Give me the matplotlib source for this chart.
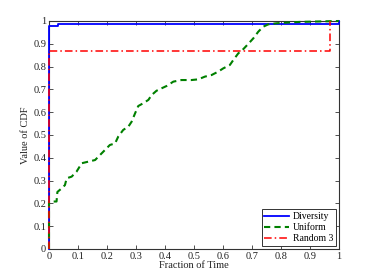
import matplotlib
matplotlib.use("Agg")
import matplotlib.pyplot as plt

plt.rcParams['font.family'] = ['Liberation Serif', 'DejaVu Serif']

# Data
div_x = [0, 0, 0.03, 0.03, 1.0, 1.0]
div_y = [0, 0.98, 0.98, 0.985, 0.985, 1.0]

uni_x = [0, 0, 0.026, 0.029, 0.044, 0.055, 0.061, 0.078, 0.095, 0.113, 0.136, 0.159,
         0.176, 0.193, 0.21, 0.228, 0.239, 0.256, 0.274, 0.285, 0.297, 0.308, 0.325,
         0.343, 0.354, 0.371, 0.389, 0.406, 0.429, 0.457, 0.492, 0.515, 0.538, 0.561,
         0.584, 0.601, 0.624, 0.636, 0.653, 0.67, 0.687, 0.705, 0.722, 0.739, 0.756,
         0.785, 0.82, 0.866, 1.0]
uni_y = [0, 0.208, 0.208, 0.25, 0.266, 0.28, 0.31, 0.317, 0.339, 0.376, 0.383, 0.39,
         0.412, 0.434, 0.456, 0.463, 0.493, 0.522, 0.537, 0.558, 0.595, 0.627, 0.639,
         0.654, 0.675, 0.694, 0.705, 0.715, 0.734, 0.741, 0.741, 0.744, 0.756, 0.763,
         0.778, 0.792, 0.807, 0.829, 0.858, 0.876, 0.899, 0.924, 0.953, 0.975, 0.985,
         0.99, 0.993, 0.996, 1.0]

rnd_x = [0, 0, 0.969, 0.969]
rnd_y = [0, 0.868, 0.868, 1.0]

ticks = [0, 0.1, 0.2, 0.3, 0.4, 0.5, 0.6, 0.7, 0.8, 0.9, 1]
tick_labels = ['0', '0.1', '0.2', '0.3', '0.4', '0.5', '0.6', '0.7', '0.8', '0.9', '1']

fig = plt.figure(figsize=(3.74, 2.8), dpi=100)
ax = fig.add_axes([0.131, 0.111, 0.775, 0.814])

ax.plot(div_x, div_y, color='#0000ff', lw=1.3, label='Diversity', clip_on=False, zorder=3)
ax.plot(uni_x, uni_y, color='#008000', lw=1.5, ls=(0, (3, 2)), label='Uniform',
        clip_on=False, zorder=4)
ax.plot(rnd_x, rnd_y, color='#ff0000', lw=1.1, ls=(0, (5, 2, 1, 2)), label='Random 3',
        clip_on=False, zorder=5)

ax.set_xlim(0, 1)
ax.set_ylim(0, 1)
ax.set_xticks(ticks)
ax.set_xticklabels(tick_labels)
ax.set_yticks(ticks)
ax.set_yticklabels(tick_labels)
ax.tick_params(direction='in', top=True, right=True, length=3, width=0.6,
               labelsize=7.5, pad=2, colors='#333333', labelcolor='#222222')
for s in ax.spines.values():
    s.set_linewidth(0.8)
    s.set_color('#333333')
    s.set_zorder(1)

ax.set_xlabel('Fraction of Time', fontsize=7.5, labelpad=0, color='#222222')
ax.set_ylabel('Value of CDF', fontsize=7.5, labelpad=2, color='#222222')

leg = ax.legend(loc='lower right', fontsize=7, frameon=True, fancybox=False,
                edgecolor='#333333', framealpha=1, borderpad=0.3, labelspacing=0.2,
                handlelength=2.5, handletextpad=0.4, borderaxespad=0.3)
leg.get_frame().set_linewidth(0.7)
leg.set_zorder(10)

fig.savefig('out.png', dpi=100)
